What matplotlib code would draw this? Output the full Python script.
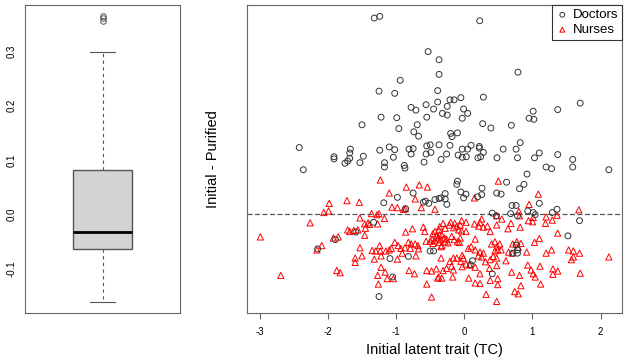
import numpy as np
import matplotlib
matplotlib.use("Agg")
import matplotlib.pyplot as plt

plt.rcParams['font.family'] = ['Liberation Sans', 'DejaVu Sans']

# Doctors: (initial latent trait, initial - purified)
doc_x = [-1.32, -1.24, -0.53, -0.37, -0.37, -0.94, -1.25, -1.02, -0.39, -0.39,
         -0.56, -0.78, -0.71, -0.45, -1.22, -0.99, -0.55, -1.50, -0.96, -0.69,
         -0.74, -0.67, -2.42, -2.36, -1.91, -1.91, -1.67, -1.68, -1.68, -1.71,
         -1.75, -1.53, -1.48, -1.24, -1.10, -1.02, -1.04, -1.17, -1.17, -0.88,
         -0.87, -0.81, -0.75, -0.78, -0.59, -0.55, -0.50, -0.56, -0.49, -0.37,
         -0.34, 0.226, 0.787, -0.21, -0.15, -0.05, 0.28, -0.25, -0.01, -0.32,
         -0.25, -0.03, 0.05, 1.01, 0.95, 1.02, 1.37, 1.70, 0.27, 0.39,
         0.69, -0.20, -0.18, -0.10, -0.21, -0.03, 0.05, 0.10, 0.22, 0.22,
         0.28, 0.24, 0.20, 0.57, 0.76, 0.78, 0.82, -0.26, -0.09, -0.03,
         0.03, 0.48, 1.03, 1.10, 1.37, 1.59, 1.59, 1.20, 1.28, 2.12,
         0.92, 0.62, 0.875, 0.81, 0.26, -0.98, -0.75, -1.18, -0.60, -0.57,
         -0.52, -0.43, -0.37, -0.86, -1.33, -1.59, -1.89, -2.15, -0.50, -0.45,
         -1.09, -0.82, -1.05, -1.25, -0.28, -0.28, -0.255, -0.34, -0.10, -0.11,
         -0.05, -0.01, 0.255, 0.195, 0.475, 0.54, 0.025, 1.10, 0.70, 0.76,
         0.41, 0.47, 0.68, 0.78, 0.93, 1.01, 1.04, 1.29, 1.36, 1.69,
         1.52, 0.78, 0.76, 0.71, 0.78, 0.12, 0.09, 0.41]
doc_y = [0.362, 0.365, 0.300, 0.285, 0.258, 0.247, 0.227, 0.223, 0.228, 0.207,
         0.202, 0.197, 0.192, 0.194, 0.179, 0.178, 0.179, 0.165, 0.158, 0.165,
         0.152, 0.144, 0.123, 0.082, 0.106, 0.102, 0.120, 0.113, 0.103, 0.098,
         0.094, 0.095, 0.107, 0.118, 0.124, 0.119, 0.105, 0.095, 0.087, 0.090,
         0.085, 0.120, 0.121, 0.111, 0.096, 0.126, 0.128, 0.111, 0.114, 0.128,
         0.101, 0.357, 0.262, 0.211, 0.211, 0.215, 0.216, 0.199, 0.194, 0.186,
         0.183, 0.177, 0.186, 0.190, 0.177, 0.175, 0.193, 0.205, 0.167, 0.159,
         0.164, 0.149, 0.143, 0.150, 0.127, 0.120, 0.120, 0.127, 0.125, 0.122,
         0.114, 0.106, 0.104, 0.120, 0.120, 0.104, 0.132, 0.111, 0.109, 0.105,
         0.106, 0.104, 0.104, 0.113, 0.110, 0.101, 0.087, 0.087, 0.084, 0.082,
         0.074, 0.059, 0.055, 0.047, 0.048, 0.031, 0.039, 0.021, 0.022, 0.024,
         0.020, 0.027, 0.029, 0.010, -0.015, -0.033, -0.047, -0.064, -0.068, -0.068,
         -0.082, -0.078, -0.116, -0.152, 0.038, 0.028, 0.018, 0.030, 0.061, 0.055,
         0.041, 0.030, 0.036, 0.032, 0.039, 0.037, 0.037, 0.020, 0.016, 0.016,
         0.002, -0.003, 0.001, -0.003, 0.006, 0.003, -0.001, 0.003, 0.009, -0.012,
         -0.040, -0.066, -0.057, -0.072, -0.072, -0.086, -0.093, -0.110]

# Nurses
nur_x = [-1.23, -0.85, -0.66, -0.54, -1.10, -0.72, -1.98, -1.72, -1.54, -2.06,
         -1.99, -1.06, -0.98, -0.89, -0.865, -0.63, -0.43, -1.36, -1.28, -1.25,
         -1.17, -1.53, -2.26, -1.46, -1.41, -1.39, -1.27, -1.45, -1.71, -1.62,
         -1.56, -1.68, -1.46, -1.92, -1.85, -2.99, -2.09, -2.16, -1.53, -0.86,
         -0.76, -0.60, -0.58, -0.46, -0.43, -0.37, -0.47, -0.43, -1.02, -0.97,
         -0.93, -0.87, -0.82, -0.78, -0.72, -0.68, -0.67, -0.79, -0.56, -0.50,
         -0.46, -1.35, -1.30, -1.24, -1.23, -1.15, -1.10, -1.22, -1.50, -1.60,
         -1.60, -1.32, -0.98, -0.91, -0.71, -1.22, -0.81, -0.73, -0.55, -0.48,
         -0.41, -1.87, -1.82, -2.69, -1.27, -1.16, -1.13, -1.04, -1.26, -0.55,
         -0.39, -0.48, -1.07, -0.41, -0.38, -0.37,
         0.50, 0.15, 1.085, 0.95, 0.475, 0.80, 0.81, 0.55, 0.255, 0.23,
         -0.04, 0.025, -0.06, 0.94, 1.00, 1.01, 1.20, 1.19, 1.29, 1.36,
         1.68, 0.685, 0.82, 0.475, 0.15, 0.21, 0.28, 0.34, 0.38, 0.64,
         -0.31, -0.36, -0.28, -0.22, -0.20, -0.14, -0.08, -0.04, 0.025, -0.11,
         -0.36, -0.33, -0.29, -0.35, -0.28, -0.26, -0.24, -0.34, -0.33, -0.185,
         -0.15, -0.10, -0.06, -0.07, 0.16, 0.40, 0.45, 0.48, 0.52, 0.54,
         0.49, 0.45, 0.71, 0.77, 0.83, 0.79, 0.65, 0.70, 1.03, 1.10,
         1.37, 0.915, 1.20, 1.28, 1.53, 1.60, 1.69, 1.60, 1.57, 2.12,
         0.16, 0.23, 0.28, 0.205, 0.255, 0.38, 0.31, 0.425, 0.475, 0.61,
         -0.03, -0.11, -0.015, -0.16, -0.05, 0.025, -0.03, -0.21, -0.185, -0.34,
         0.08, 0.37, 0.475, 0.695, 0.81, 0.93, 0.98, 1.01, 1.11, 1.04,
         1.30, 1.37, 1.30, 1.70, -0.31, -0.26, -0.16, -0.375, -0.33, -0.17,
         0.065, 0.23, 0.38, 0.49, 0.49, 0.16, 0.23, 0.83, 1.12, 0.74,
         0.79, 0.32, 0.475, 0.06, 0.10, 0.16, -0.155]
nur_y = [0.063, 0.050, 0.054, 0.050, 0.039, 0.028, 0.020, 0.025, 0.022, 0.003,
         0.006, 0.013, 0.012, 0.009, 0.010, 0.012, 0.009, 0.001, -0.001, 0.001,
         -0.008, -0.007, -0.016, -0.018, -0.016, -0.019, -0.018, -0.026, -0.029, -0.030,
         -0.029, -0.032, -0.039, -0.044, -0.042, -0.042, -0.058, -0.066, -0.062, -0.033,
         -0.027, -0.024, -0.032, -0.036, -0.032, -0.029, -0.046, -0.049, -0.052, -0.058,
         -0.063, -0.062, -0.052, -0.055, -0.055, -0.058, -0.064, -0.063, -0.050, -0.050,
         -0.054, -0.067, -0.068, -0.058, -0.068, -0.068, -0.066, -0.077, -0.077, -0.081,
         -0.089, -0.083, -0.083, -0.072, -0.077, -0.098, -0.104, -0.110, -0.104, -0.105,
         -0.101, -0.104, -0.108, -0.113, -0.113, -0.107, -0.119, -0.119, -0.129, -0.129,
         -0.118, -0.153, -0.063, -0.040, -0.044, -0.052,
         0.061, 0.030, 0.037, 0.018, -0.003, 0.005, -0.003, -0.009, -0.009, -0.015,
         -0.012, -0.015, -0.020, -0.012, -0.014, -0.006, -0.005, -0.017, -0.011, -0.002,
         0.008, -0.017, -0.024, -0.020, -0.018, -0.022, -0.024, -0.022, -0.032, -0.027,
         -0.017, -0.023, -0.026, -0.020, -0.015, -0.017, -0.029, -0.031, -0.032, -0.022,
         -0.038, -0.038, -0.044, -0.047, -0.051, -0.046, -0.053, -0.060, -0.058, -0.041,
         -0.047, -0.051, -0.044, -0.052, -0.046, -0.055, -0.051, -0.060, -0.055, -0.066,
         -0.066, -0.068, -0.055, -0.051, -0.054, -0.061, -0.070, -0.072, -0.052, -0.045,
         -0.035, -0.070, -0.072, -0.066, -0.066, -0.068, -0.072, -0.079, -0.084, -0.079,
         -0.066, -0.070, -0.072, -0.077, -0.079, -0.084, -0.088, -0.078, -0.081, -0.086,
         -0.076, -0.081, -0.081, -0.081, -0.087, -0.092, -0.097, -0.087, -0.096, -0.081,
         -0.094, -0.100, -0.095, -0.107, -0.113, -0.094, -0.103, -0.110, -0.096, -0.116,
         -0.101, -0.105, -0.111, -0.109, -0.104, -0.100, -0.103, -0.116, -0.118, -0.116,
         -0.118, -0.110, -0.122, -0.119, -0.130, -0.127, -0.128, -0.132, -0.129, -0.143,
         -0.147, -0.148, -0.161, -0.063, -0.060, -0.098, -0.025]

# boxplot summary of Initial - Purified
box_med = -0.033
box_q1 = -0.064
box_q3 = 0.082
whisker_lo = -0.162
whisker_hi = 0.300
outliers = [0.357, 0.362, 0.365]

fig = plt.figure(figsize=(6.27, 3.61), dpi=100)
frame_col = '#666666'

# left: boxplot of all differences
ax1 = fig.add_axes([0.0399, 0.1321, 0.2472, 0.854])
stats = [dict(med=box_med, q1=box_q1, q3=box_q3, whislo=whisker_lo,
              whishi=whisker_hi, fliers=outliers)]
ax1.bxp(stats, positions=[1], widths=0.375, capwidths=0.16,
        patch_artist=True,
        boxprops=dict(facecolor='#d3d3d3', edgecolor='#555555', linewidth=1),
        medianprops=dict(color='black', linewidth=2),
        whiskerprops=dict(color='#555555', linestyle=(0, (3, 3)), linewidth=0.8),
        capprops=dict(color='#555555', linewidth=0.8),
        flierprops=dict(marker='o', markerfacecolor='none',
                        markeredgecolor='#555555', markersize=4, markeredgewidth=0.7))
ax1.set_xlim(0.5, 1.5)
ax1.set_ylim(-0.183, 0.386)
ax1.set_xticks([])
ax1.set_yticks([-0.1, 0.0, 0.1, 0.2, 0.3])
ax1.set_yticklabels(['-0.1', '0.0', '0.1', '0.2', '0.3'], rotation=90, va='center', fontsize=7)
ax1.tick_params(axis='y', length=0, pad=6)
for s in ax1.spines.values():
    s.set_color(frame_col)

# right: scatter
ax2 = fig.add_axes([0.3935, 0.1321, 0.599, 0.854])
ax2.axhline(0, color='#555555', linestyle=(0, (4, 2)), linewidth=0.9, zorder=1)
ax2.scatter(doc_x, doc_y, s=18, marker='o', facecolors='none',
            edgecolors='#333333', linewidths=0.7, label='Doctors', zorder=3)
ax2.scatter(nur_x, nur_y, s=20, marker='^', facecolors='none',
            edgecolors='red', linewidths=0.7, label='Nurses', zorder=2)
ax2.set_xlim(-3.19, 2.317)
ax2.set_ylim(-0.183, 0.386)
ax2.set_yticks([])
ax2.set_xticks([-3, -2, -1, 0, 1, 2])
ax2.set_xticklabels(['-3', '-2', '-1', '0', '1', '2'], fontsize=7)
ax2.tick_params(axis='x', length=4, color=frame_col, pad=6)
ax2.set_xlabel('Initial latent trait (TC)', fontsize=10.5, labelpad=4)
ax2.set_ylabel('Initial - Purified', fontsize=10.5, labelpad=19)
for s in ax2.spines.values():
    s.set_color(frame_col)

leg = ax2.legend(loc='upper right', borderaxespad=0, fontsize=9.5, fancybox=False,
                 framealpha=1, edgecolor='#333333', handletextpad=0.3,
                 borderpad=0.3, labelspacing=0.2, handlelength=1.0,
                 markerscale=0.8)
leg.get_frame().set_linewidth(0.8)

fig.savefig('out.png', dpi=100)
